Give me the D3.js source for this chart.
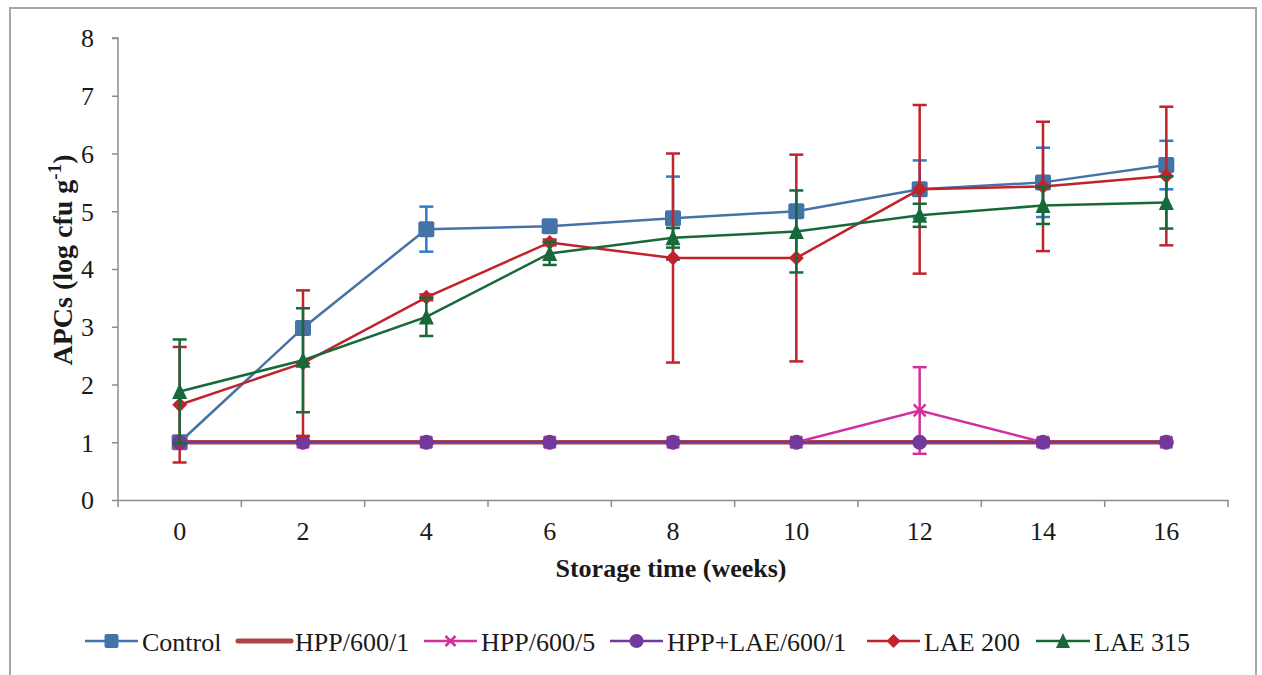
<!DOCTYPE html>
<html><head><meta charset="utf-8">
<script src="https://cdn.jsdelivr.net/npm/d3@7"></script>
<style>
html,body{margin:0;padding:0;background:#fff;}
svg text{font-family:"Liberation Serif","Times New Roman",serif;fill:#1a1a1a;}
</style></head><body>
<svg id="c" width="1262" height="675"></svg>
<script>
const weeks = ["0","2","4","6","8","10","12","14","16"];
const yTicks = [0,1,2,3,4,5,6,7,8];
const controlVals = [1.0, 2.98, 4.69, 4.74, 4.88, 5.0, 5.38, 5.5, 5.8];
const controlErr  = [0.0, 0.05, 0.39, 0.05, 0.72, 0.05, 0.5, 0.6, 0.42];
const hpp1Vals = [1,1,1,1,1,1,1,1,1];
const hpp1Err  = [0,0,0,0,0,0,0,0,0];
const hpp5Vals = [1,1,1,1,1,1,1.55,1,1];
const hpp5Err  = [0,0,0,0,0,0,0.75,0.06,0];
const hppLaeVals = [1,1,1,1,1,1,1,1,1];
const hppLaeErr  = [0,0,0,0,0,0,0,0,0];
const lae200Vals = [1.65, 2.37, 3.51, 4.46, 4.19, 4.19, 5.38, 5.43, 5.61];
const lae200Err  = [1.0, 1.26, 0.05, 0.05, 1.81, 1.79, 1.46, 1.12, 1.2];
const lae315Vals = [1.88, 2.42, 3.17, 4.27, 4.54, 4.65, 4.93, 5.1, 5.15];
const lae315Err  = [0.9, 0.9, 0.33, 0.2, 0.17, 0.71, 0.2, 0.32, 0.45];
const seriesNames = ["Control","HPP/600/1","HPP/600/5","HPP+LAE/600/1","LAE 200","LAE 315"];

const series = [
  {name:seriesNames[0], vals:controlVals, err:controlErr, color:"#4572A7", errColor:"#2F7DC8", marker:"square", width:2.5},
  {name:seriesNames[1], vals:hpp1Vals, err:hpp1Err, color:"#AA4643", errColor:"#AA4643", marker:"none", width:4.5},
  {name:seriesNames[2], vals:hpp5Vals, err:hpp5Err, color:"#D0319D", errColor:"#D0319D", marker:"x", width:2.5},
  {name:seriesNames[3], vals:hppLaeVals, err:hppLaeErr, color:"#71399B", errColor:"#71399B", marker:"circle", width:2.5},
  {name:seriesNames[4], vals:lae200Vals, err:lae200Err, color:"#C1232B", errColor:"#C1232B", marker:"diamond", width:2.5},
  {name:seriesNames[5], vals:lae315Vals, err:lae315Err, color:"#17693A", errColor:"#17693A", marker:"triangle", width:2.5}
];

const svg = d3.select("#c");
// outer frame
svg.append("rect").attr("x",10).attr("y",8).attr("width",1246).attr("height",700)
  .attr("fill","none").attr("stroke","#a6a6a6").attr("stroke-width",2);

const L=118, R=1228, T=38, B=500;
const x = d3.scaleBand().domain(weeks).range([L,R]);
const y = d3.scaleLinear().domain([0,8]).range([B,T]);

// axes
const yAxis = svg.append("g").attr("transform",`translate(${L},0)`)
  .call(d3.axisLeft(y).tickValues(yTicks).tickSize(6).tickPadding(18));
const xAxis = svg.append("g").attr("transform",`translate(0,${B})`)
  .call(d3.axisBottom(x).tickSize(0).tickPadding(22));
[yAxis,xAxis].forEach(a=>{
  a.attr("font-family",null).attr("font-size",null);
  a.selectAll("path").attr("stroke","#8c8c8c").attr("stroke-width",1.5);
  a.selectAll("line").attr("stroke","#8c8c8c").attr("stroke-width",1.5);
  a.selectAll("text").style("font-size","26px").style("font-family","Liberation Serif").attr("fill","#1a1a1a");
});
yAxis.selectAll("text").attr("dy","0.34em");
yAxis.select(".domain").attr("d",`M0,${B}V${T}H-6`);
// x boundary ticks
const bounds = weeks.map(w=>x(w)).concat([R]);
xAxis.selectAll("line.bt").data(bounds).enter().append("line").attr("class","bt")
  .attr("x1",d=>d).attr("x2",d=>d).attr("y1",0).attr("y2",7)
  .attr("stroke","#8c8c8c").attr("stroke-width",1.5);

const cx = w => x(w) + x.bandwidth()/2;

// axis titles
svg.append("text").attr("x",671).attr("y",577).attr("text-anchor","middle")
  .style("font-size","26px").style("font-weight","bold").text("Storage time (weeks)");
const yt = svg.append("text").attr("transform","translate(72,260) rotate(-90)").attr("text-anchor","middle")
  .style("font-size","28px").style("font-weight","bold");
yt.append("tspan").text("APCs (log cfu g");
yt.append("tspan").attr("dy",-11).style("font-size","19px").text("-1");
yt.append("tspan").attr("dy",11).text(")");

function drawMarker(g, type, px, py, color, s){
  if(type==="square") g.append("rect").attr("x",px-s/2).attr("y",py-s/2).attr("width",s).attr("height",s).attr("rx",2).attr("fill",color);
  else if(type==="circle") g.append("circle").attr("cx",px).attr("cy",py).attr("r",s/2).attr("fill",color);
  else if(type==="diamond") g.append("path").attr("d",`M${px},${py-s/2}L${px+s/2},${py}L${px},${py+s/2}L${px-s/2},${py}Z`).attr("fill",color);
  else if(type==="triangle") g.append("path").attr("d",`M${px},${py-s/2-1}L${px+s/2},${py+s/2}L${px-s/2},${py+s/2}Z`).attr("fill",color);
  else if(type==="x"){ const h=s/2-1;
    g.append("path").attr("d",`M${px-h},${py-h}L${px+h},${py+h}M${px-h},${py+h}L${px+h},${py-h}`).attr("stroke",color).attr("stroke-width",2.5);}
}
const msize = {square:16, circle:15, diamond:15, triangle:15, x:14, none:0};

const line = d3.line().x((d,i)=>cx(weeks[i])).y(d=>y(d));
series.forEach(s=>{
  const g = svg.append("g");
  g.append("path").attr("d",line(s.vals)).attr("fill","none").attr("stroke",s.color).attr("stroke-width",s.width);
  s.vals.forEach((v,i)=>{
    const e=s.err[i]; if(!e) return;
    const px=cx(weeks[i]);
    g.append("line").attr("x1",px).attr("x2",px).attr("y1",y(v+e)).attr("y2",y(v-e)).attr("stroke",s.errColor).attr("stroke-width",2.5);
    [v+e,v-e].forEach(t=>g.append("line").attr("x1",px-7).attr("x2",px+7).attr("y1",y(t)).attr("y2",y(t)).attr("stroke",s.errColor).attr("stroke-width",2.5));
  });
  s.vals.forEach((v,i)=>drawMarker(g,s.marker,cx(weeks[i]),y(v),s.color,msize[s.marker]));
});

// legend
const legX = [85, 238, 424, 610, 867, 1036];
const legW = [53, 53, 53, 53, 53, 54];
const ly = 641;
series.forEach((s,i)=>{
  const g = svg.append("g");
  g.append("line").attr("x1",legX[i]).attr("x2",legX[i]+legW[i]).attr("y1",ly).attr("y2",ly)
    .attr("stroke",s.color).attr("stroke-width",s.marker==="none"?5:2.5).attr("stroke-linecap",s.marker==="none"?"round":"butt");
  drawMarker(g,s.marker,legX[i]+legW[i]/2,ly,s.color,s.marker==="x"?12:14);
  g.append("text").attr("x",legX[i]+legW[i]+4).attr("y",ly+10).style("font-size","26px").text(s.name);
});
</script></body></html>
